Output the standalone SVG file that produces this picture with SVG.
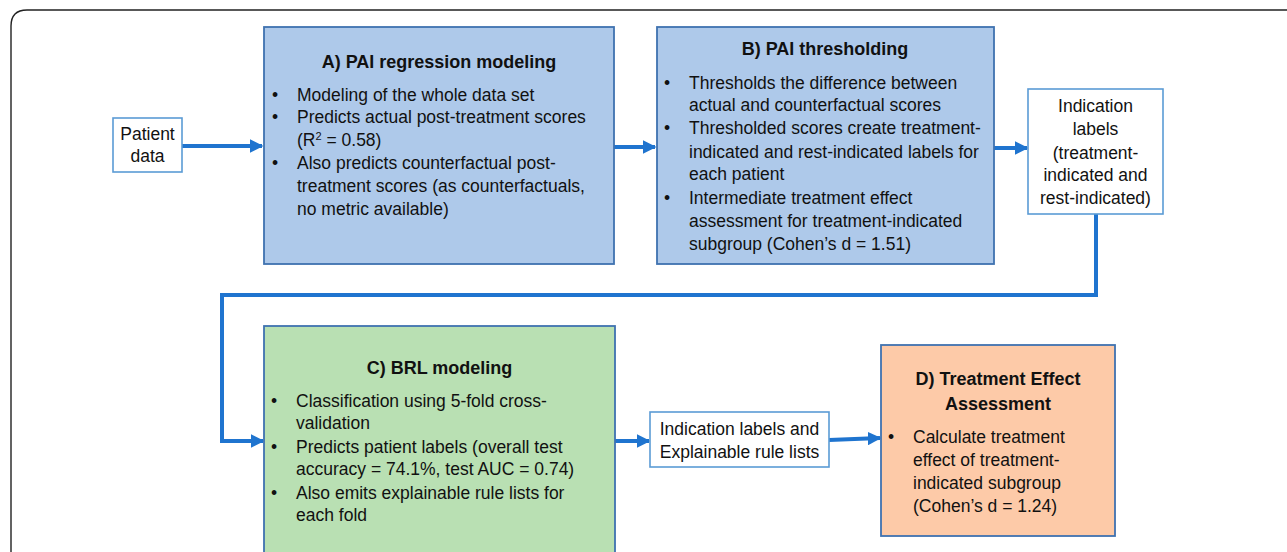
<svg xmlns="http://www.w3.org/2000/svg" width="1287" height="552" viewBox="0 0 1287 552">
  <style>
    text { font-family: "Liberation Sans", Arial, sans-serif; fill: #111; }
    .body { font-size: 17.5px; }
    .title { font-size: 18px; font-weight: bold; text-anchor: middle; }
    .mid { text-anchor: middle; }
    .stage { stroke: #3f72b0; stroke-width: 1.8; }
    .blue { fill: #aec9ea; }
    .green { fill: #b9e0b3; }
    .orange { fill: #fdcaa8; }
    .plain { fill: #ffffff; stroke: #5b9bd5; stroke-width: 1.6; }
    .link { fill: none; stroke: #1f74cf; stroke-width: 4; }
  </style>
  <defs>
    <marker id="head" viewBox="0 0 10 10" refX="9" refY="5" markerWidth="3.4" markerHeight="3.4" orient="auto" markerUnits="strokeWidth">
      <path d="M0,0 L10,5 L0,10 z" fill="#1f74cf"/>
    </marker>
  </defs>

  <rect width="1287" height="552" fill="#ffffff"/>
  <!-- outer frame (continues past the right and bottom edges) -->
  <path d="M11,570 V26 Q11,10 27,10 H1300" fill="none" stroke="#222" stroke-width="1.4"/>

  <g id="connectors">
    <path class="link" d="M182,146 H262" marker-end="url(#head)"/>
    <path class="link" d="M614,147 H655" marker-end="url(#head)"/>
    <path class="link" d="M994,148 H1027" marker-end="url(#head)"/>
    <path class="link" d="M1096,214 V295 H222 V441 H263" marker-end="url(#head)"/>
    <path class="link" d="M615,441 H649" marker-end="url(#head)"/>
    <path class="link" d="M829,440 L880,438" marker-end="url(#head)"/>
  </g>

  <g id="patient-data">
    <rect class="plain" x="113" y="118" width="69" height="54"/>
    <text class="body mid" x="147.5" y="140">Patient</text>
    <text class="body mid" x="147.5" y="162">data</text>
  </g>

  <g id="stage-a">
    <rect class="stage blue" x="264" y="27" width="350" height="237"/>
    <text class="title" x="439" y="68">A) PAI regression modeling</text>
    <g class="body">
      <text x="272" y="101">•</text><text x="297" y="101">Modeling of the whole data set</text>
      <text x="272" y="123">•</text><text x="297" y="123">Predicts actual post-treatment scores</text>
      <text x="297" y="146">(R<tspan font-size="11" dy="-6">2</tspan><tspan dy="6"> = 0.58)</tspan></text>
      <text x="272" y="169">•</text><text x="297" y="169">Also predicts counterfactual post-</text>
      <text x="297" y="192">treatment scores (as counterfactuals,</text>
      <text x="297" y="215">no metric available)</text>
    </g>
  </g>

  <g id="stage-b">
    <rect class="stage blue" x="657" y="27" width="337" height="237"/>
    <text class="title" x="825" y="55">B) PAI thresholding</text>
    <g class="body">
      <text x="664" y="89">•</text><text x="689" y="89">Thresholds the difference between</text>
      <text x="689" y="111">actual and counterfactual scores</text>
      <text x="664" y="134">•</text><text x="689" y="134">Thresholded scores create treatment-</text>
      <text x="689" y="158">indicated and rest-indicated labels for</text>
      <text x="689" y="180">each patient</text>
      <text x="664" y="204">•</text><text x="689" y="204">Intermediate treatment effect</text>
      <text x="689" y="227">assessment for treatment-indicated</text>
      <text x="689" y="250">subgroup (Cohen’s d = 1.51)</text>
    </g>
  </g>

  <g id="indication-labels">
    <rect class="plain" x="1028" y="89" width="135" height="125"/>
    <g class="body mid">
      <text x="1095.5" y="112">Indication</text>
      <text x="1095.5" y="135">labels</text>
      <text x="1095.5" y="159">(treatment-</text>
      <text x="1095.5" y="181">indicated and</text>
      <text x="1095.5" y="204">rest-indicated)</text>
    </g>
  </g>

  <g id="stage-c">
    <rect class="stage green" x="264" y="326" width="351" height="240"/>
    <text class="title" x="439.5" y="374">C) BRL modeling</text>
    <g class="body">
      <text x="271" y="407">•</text><text x="296" y="407">Classification using 5-fold cross-</text>
      <text x="296" y="429">validation</text>
      <text x="271" y="453">•</text><text x="296" y="453">Predicts patient labels (overall test</text>
      <text x="296" y="475">accuracy = 74.1%, test AUC = 0.74)</text>
      <text x="271" y="499">•</text><text x="296" y="499">Also emits explainable rule lists for</text>
      <text x="296" y="521">each fold</text>
    </g>
  </g>

  <g id="rule-lists">
    <rect class="plain" x="650" y="412" width="179" height="55"/>
    <text class="body mid" x="739.5" y="435">Indication labels and</text>
    <text class="body mid" x="739.5" y="458">Explainable rule lists</text>
  </g>

  <g id="stage-d">
    <rect class="stage orange" x="881" y="345" width="234" height="191"/>
    <text class="title" x="998" y="385">D) Treatment Effect</text>
    <text class="title" x="998" y="410">Assessment</text>
    <g class="body">
      <text x="888" y="443">•</text><text x="913" y="443">Calculate treatment</text>
      <text x="913" y="466">effect of treatment-</text>
      <text x="913" y="489">indicated subgroup</text>
      <text x="913" y="512">(Cohen’s d = 1.24)</text>
    </g>
  </g>
</svg>
